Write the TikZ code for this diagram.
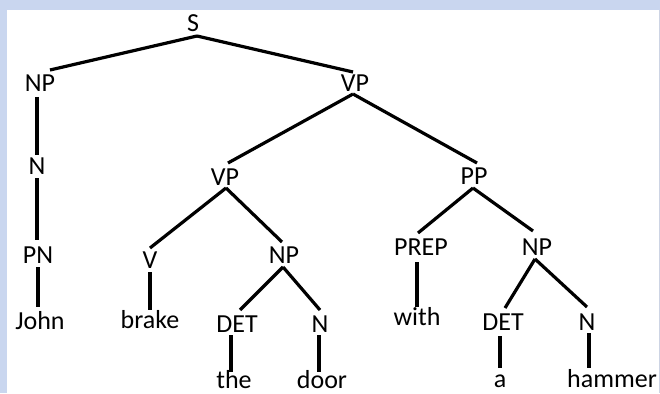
\documentclass[tikz,border=0pt]{standalone}
\usepackage{fontspec}
\setmainfont{Carlito}
\definecolor{bgblue}{RGB}{201,214,239}
\definecolor{edgeline}{RGB}{205,212,228}
\begin{document}
\begin{tikzpicture}[x=1pt,y=-1pt,
  lbl/.style={inner sep=0pt,anchor=base,font=\fontsize{26}{30}\selectfont},
  edge/.style={draw=black,line width=3.2pt}]
\useasboundingbox (0,0) rectangle (660,393);
\fill[bgblue] (0,0) rectangle (660,393);
\fill[white] (7,10) rectangle (659,393);
\fill[edgeline] (659,10) rectangle (660,393);
% labels
\node[lbl] (S) at (193,32) {S};
\node[lbl] (NPa) at (40,92) {NP};
\node[lbl] (Na) at (37,174) {N};
\node[lbl] (PN) at (38,263) {PN};
\node[lbl] (John) at (40,329) {John};
\node[lbl] (VPa) at (355,92) {VP};
\node[lbl] (VPb) at (225,185) {VP};
\node[lbl] (PP) at (474,184) {PP};
\node[lbl] (V) at (150,268) {V};
\node[lbl] (NPb) at (284,263) {NP};
\node[lbl] (brake) at (150,328) {brake};
\node[lbl] (DETa) at (237,332) {DET};
\node[lbl] (Nb) at (320,332) {N};
\node[lbl] (the) at (234,388) {the};
\node[lbl] (door) at (322,388) {door};
\node[lbl] (PREP) at (421,255) {PREP};
\node[lbl] (NPc) at (537,255) {NP};
\node[lbl] (with) at (417,325) {with};
\node[lbl] (DETb) at (503,330) {DET};
\node[lbl] (Nc) at (587,330) {N};
\node[lbl] (a) at (500,387) {a};
\node[lbl] (hammer) at (612,387) {hammer};
% edges
\draw[edge] ([xshift=4pt,yshift=-4pt]S.base) -- ([xshift=10pt,yshift=22pt]NPa.base);
\draw[edge] ([xshift=4pt,yshift=-4pt]S.base) -- ([xshift=-2pt,yshift=20pt]VPa.base);
\draw[edge] ([xshift=-3pt,yshift=-5pt]NPa.base) -- ([yshift=19pt]Na.base);
\draw[edge] ([yshift=-4pt]Na.base) -- ([xshift=-1pt,yshift=23pt]PN.base);
\draw[edge] ([yshift=-4pt]PN.base) -- ([xshift=-2pt,yshift=22pt]John.base);
\draw[edge] ([xshift=-2pt,yshift=-2pt]VPa.base) -- ([xshift=3pt,yshift=22pt]VPb.base);
\draw[edge] ([xshift=-2pt,yshift=-2pt]VPa.base) -- ([xshift=3pt,yshift=21pt]PP.base);
\draw[edge] ([xshift=1pt,yshift=-3pt]VPb.base) -- ([yshift=20pt]V.base);
\draw[edge] ([xshift=1pt,yshift=-3pt]VPb.base) -- ([xshift=-2pt,yshift=21pt]NPb.base);
\draw[edge] ([yshift=-4pt]V.base) -- ([yshift=18pt]brake.base);
\draw[edge] ([xshift=-1pt,yshift=-4pt]NPb.base) -- ([xshift=3pt,yshift=22pt]DETa.base);
\draw[edge] ([xshift=-1pt,yshift=-4pt]NPb.base) -- ([yshift=22pt]Nb.base);
\draw[edge] ([xshift=-6pt,yshift=-3pt]DETa.base) -- ([xshift=-3pt,yshift=16pt]the.base);
\draw[edge] ([xshift=-1pt,yshift=-3pt]Nb.base) -- ([xshift=-3pt,yshift=16pt]door.base);
\draw[edge] ([xshift=-1pt,yshift=-4pt]PP.base) -- ([xshift=-3pt,yshift=22pt]PREP.base);
\draw[edge] ([xshift=-1pt,yshift=-4pt]PP.base) -- ([xshift=-4pt,yshift=24pt]NPc.base);
\draw[edge] ([xshift=-4pt,yshift=-7pt]PREP.base) -- ([yshift=18pt]with.base);
\draw[edge] ([xshift=-2pt,yshift=-4pt]NPc.base) -- ([xshift=2pt,yshift=22pt]DETb.base);
\draw[edge] ([xshift=-2pt,yshift=-4pt]NPc.base) -- ([yshift=23pt]Nc.base);
\draw[edge] ([xshift=-3pt,yshift=-6pt]DETb.base) -- ([yshift=19pt]a.base);
\draw[edge] ([xshift=2pt,yshift=-3pt]Nc.base) -- ([xshift=-23pt,yshift=19pt]hammer.base);
\end{tikzpicture}
\end{document}
